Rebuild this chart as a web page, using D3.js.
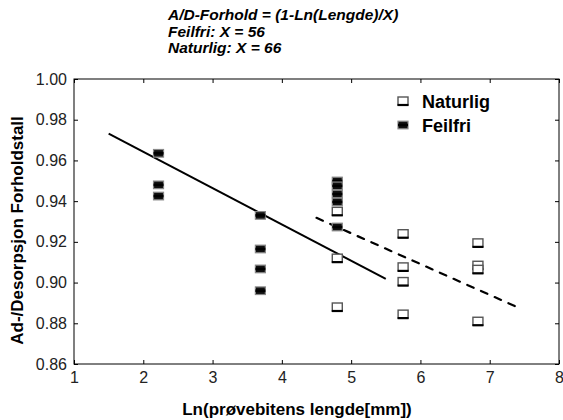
<!DOCTYPE html>
<html><head><meta charset="utf-8">
<script src="https://cdn.jsdelivr.net/npm/d3@7/dist/d3.min.js"></script>
<style>body{margin:0;background:#fff;} svg{display:block;font-family:"Liberation Sans",Arial,sans-serif;}</style>
</head><body>
<script>
const titleLines = ["A/D-Forhold = (1-Ln(Lengde)/X)", "Feilfri: X = 56", "Naturlig: X = 66"];
const xTicks = [1,2,3,4,5,6,7,8];
const yTicks = [0.86,0.88,0.90,0.92,0.94,0.96,0.98,1.00];
const naturligX = [4.8,4.8,4.8,5.75,5.75,5.75,5.75,6.83,6.83,6.83,6.83];
const naturligY = [0.935,0.912,0.888,0.924,0.9077,0.9005,0.8845,0.9195,0.9085,0.9065,0.881];
const feilfriX = [2.22,2.22,2.22,3.69,3.69,3.69,3.69,4.8,4.8,4.8,4.8,4.8];
const feilfriY = [0.9635,0.948,0.9425,0.933,0.9165,0.9067,0.896,0.9499,0.9475,0.9435,0.9396,0.9273];
const fitFeilfriX = [1.5,5.5];
const fitFeilfriY = [0.9732,0.9018];
const fitNaturligX = [4.5,7.4];
const fitNaturligY = [0.9318,0.8879];
const legendLabels = ["Naturlig","Feilfri"];

const W=563,H=420;
const svg=d3.select("body").append("svg").attr("width",W).attr("height",H);
const L=74,R=559,T=79,B=364;
const x=d3.scaleLinear().domain([1,8]).range([L,R]);
const y=d3.scaleLinear().domain([0.86,1.0]).range([B,T]);

svg.append("rect").attr("x",L).attr("y",T).attr("width",R-L).attr("height",B-T)
  .attr("fill","none").attr("stroke","#000").attr("stroke-width",1);

const tk=4;
const gB=svg.append("g").attr("transform",`translate(0,${B})`)
  .call(d3.axisBottom(x).tickValues(xTicks).tickFormat(d3.format("d")).tickSizeInner(-tk).tickSizeOuter(0).tickPadding(8));
gB.select(".domain").remove();
gB.selectAll("text").attr("font-size",16).attr("fill","#222").attr("font-family","Liberation Sans, Arial, sans-serif");
const gT=svg.append("g").attr("transform",`translate(0,${T})`)
  .call(d3.axisTop(x).tickValues(xTicks).tickFormat("").tickSizeInner(-tk).tickSizeOuter(0));
gT.select(".domain").remove();
const gL=svg.append("g").attr("transform",`translate(${L},0)`)
  .call(d3.axisLeft(y).tickValues(yTicks).tickFormat(d3.format(".2f")).tickSizeInner(-tk).tickSizeOuter(0).tickPadding(7));
gL.select(".domain").remove();
gL.selectAll("text").attr("font-size",16).attr("fill","#222").attr("font-family","Liberation Sans, Arial, sans-serif");
const gR=svg.append("g").attr("transform",`translate(${R},0)`)
  .call(d3.axisRight(y).tickValues(yTicks).tickFormat("").tickSizeInner(-tk).tickSizeOuter(0));
gR.select(".domain").remove();

svg.append("g").selectAll("text").data(titleLines).join("text")
  .attr("x",168).attr("y",(d,i)=>20+i*16.5)
  .attr("font-size",15.5).attr("font-weight","bold").attr("font-style","italic")
  .text(d=>d);

svg.append("text").attr("x",297).attr("y",415).attr("text-anchor","middle")
  .attr("font-size",17).attr("font-weight","bold").text("Ln(prøvebitens lengde[mm])");
svg.append("text").attr("transform",`translate(23,${(T+B)/2+9}) rotate(-90)`).attr("text-anchor","middle")
  .attr("font-size",17).attr("font-weight","bold").text("Ad-/Desorpsjon Forholdstall");

const line=d3.line().x(d=>x(d[0])).y(d=>y(d[1]));
svg.append("path").datum(fitFeilfriX.map((v,i)=>[v,fitFeilfriY[i]]))
  .attr("d",line).attr("fill","none").attr("stroke","#000").attr("stroke-width",2);
svg.append("path").datum(fitNaturligX.map((v,i)=>[v,fitNaturligY[i]]))
  .attr("d",line).attr("fill","none").attr("stroke","#000").attr("stroke-width",2.2)
  .attr("stroke-dasharray","7,8").attr("stroke-linecap","round");

function naturligMarker(g,cx,cy){
  g.append("rect").attr("x",cx-5).attr("y",cy-4).attr("width",10).attr("height",8)
    .attr("fill","#fff").attr("stroke","#555").attr("stroke-width",1.4);
  g.append("line").attr("x1",cx-5.5).attr("x2",cx+5.5).attr("y1",cy+4).attr("y2",cy+4)
    .attr("stroke","#000").attr("stroke-width",2.2);
}
function feilfriMarker(g,cx,cy){
  g.append("rect").attr("x",cx-5).attr("y",cy-3.8).attr("width",10).attr("height",7.6)
    .attr("fill","#111").attr("stroke","#888").attr("stroke-width",1.2);
  g.append("rect").attr("x",cx-5).attr("y",cy-1.3).attr("width",10).attr("height",2.6).attr("fill","#000");
}
const gN=svg.append("g");
naturligX.forEach((v,i)=>naturligMarker(gN,x(v),y(naturligY[i])));
const gF=svg.append("g");
feilfriX.forEach((v,i)=>feilfriMarker(gF,x(v),y(feilfriY[i])));

const lg=svg.append("g");
naturligMarker(lg,403,101);
feilfriMarker(lg,403,125);
lg.selectAll("text").data(legendLabels).join("text")
  .attr("x",422).attr("y",(d,i)=>108+i*24).attr("font-size",18).attr("font-weight","bold").text(d=>d);
</script>
</body></html>
